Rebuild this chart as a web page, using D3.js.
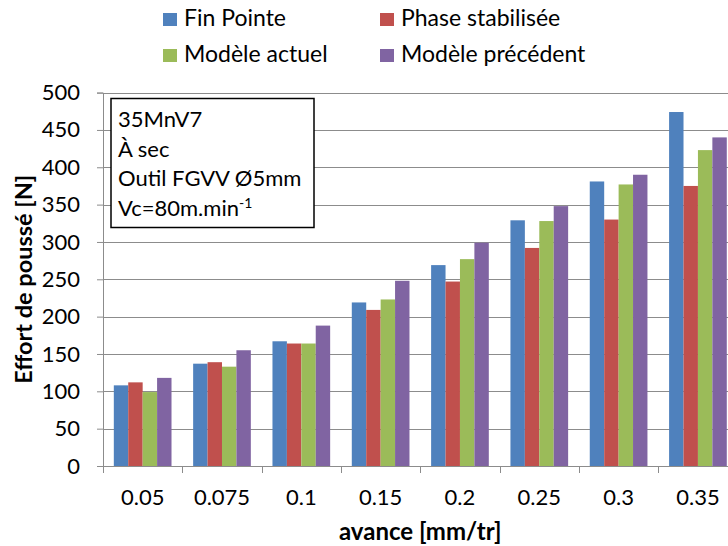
<!DOCTYPE html>
<html>
<head>
<meta charset="utf-8">
<script src="https://cdn.jsdelivr.net/npm/d3@7"></script>
<style>
  body { margin: 0; background: #fff; }
  text { font-family: Lato, "Open Sans", sans-serif; fill: #000; }
</style>
</head>
<body>
<div id="chart"></div>
<script>
var width = 728;
var height = 546;

// data
var categories = ["0.05", "0.075", "0.1", "0.15", "0.2", "0.25", "0.3", "0.35"];
var seriesNames = ["Fin Pointe", "Phase stabilisée", "Modèle actuel", "Modèle précédent"];
var seriesColors = ["#4F81BD", "#C0504D", "#9BBB59", "#8064A2"];
var finPointe = [108, 137, 167, 219, 269, 329, 381, 474];
var phaseStab = [112, 139, 164, 209, 247, 292, 330, 375];
var modeleActuel = [99, 133, 164, 223, 277, 328, 377, 423];
var modelePrec = [118, 155, 188, 248, 299, 348, 390, 440];
var yTicks = [0, 50, 100, 150, 200, 250, 300, 350, 400, 450, 500];
var infoLines = ["35MnV7", "À sec", "Outil FGVV Ø5mm"];

var allSeries = [finPointe, phaseStab, modeleActuel, modelePrec];

// plot area (the right side runs past the picture edge, as in the original)
var margin = {left: 103, top: 92.6, bottom: 466, right: 737.6};

var svg = d3.select("#chart")
  .append("svg")
  .attr("width", width)
  .attr("height", height);

var x = d3.scaleBand()
  .domain(categories)
  .range([margin.left, margin.right])
  .paddingInner(0)
  .paddingOuter(0);

var xSub = d3.scaleBand()
  .domain(d3.range(seriesNames.length))
  .range([0, x.bandwidth()])
  .paddingInner(0)
  .paddingOuter(0.75);

var y = d3.scaleLinear()
  .domain([0, 500])
  .range([margin.bottom, margin.top]);

// gridlines
svg.append("g")
  .selectAll("line")
  .data(yTicks.filter(function(d) { return d > 0; }))
  .enter()
  .append("line")
  .attr("x1", margin.left)
  .attr("x2", margin.right)
  .attr("y1", function(d) { return Math.round(y(d)) + 0.5; })
  .attr("y2", function(d) { return Math.round(y(d)) + 0.5; })
  .attr("stroke", "#8c8c8c")
  .attr("stroke-width", 1);

// bars
var groups = svg.append("g")
  .selectAll("g")
  .data(categories)
  .enter()
  .append("g")
  .attr("transform", function(d) { return "translate(" + x(d) + ",0)"; });

groups.selectAll("rect")
  .data(function(d, i) {
    return allSeries.map(function(s, k) { return {k: k, v: s[i]}; });
  })
  .enter()
  .append("rect")
  .attr("x", function(d) { return xSub(d.k); })
  .attr("width", xSub.bandwidth())
  .attr("y", function(d) { return y(d.v); })
  .attr("height", function(d) { return y(0) - y(d.v); })
  .attr("fill", function(d) { return seriesColors[d.k]; });

// y axis
var yAxis = svg.append("g")
  .attr("transform", "translate(" + margin.left + ",0)")
  .call(d3.axisLeft(y).tickValues(yTicks).tickSize(6).tickPadding(17));
yAxis.select(".domain").attr("stroke", "#8c8c8c");
yAxis.selectAll(".tick line").attr("stroke", "#8c8c8c");
yAxis.selectAll("text")
  .style("font-size", "22px")
  .attr("fill", "#000");

// x axis
var xAxis = svg.append("g")
  .attr("transform", "translate(0," + margin.bottom + ")")
  .call(d3.axisBottom(x).tickSize(0).tickPadding(23));
xAxis.select(".domain").attr("stroke", "#8c8c8c");
xAxis.selectAll("text")
  .style("font-size", "22px")
  .attr("fill", "#000");

// tick marks between categories
svg.append("g")
  .selectAll("line")
  .data(categories)
  .enter()
  .append("line")
  .attr("x1", function(d) { return Math.round(x(d)) + 0.5; })
  .attr("x2", function(d) { return Math.round(x(d)) + 0.5; })
  .attr("y1", margin.bottom)
  .attr("y2", margin.bottom + 7)
  .attr("stroke", "#8c8c8c");

// axis titles
svg.append("text")
  .attr("x", (margin.left + margin.right) / 2)
  .attr("y", 540)
  .attr("text-anchor", "middle")
  .style("font-size", "24px")
  .style("font-weight", "bold")
  .text("avance [mm/tr]");

svg.append("text")
  .attr("transform", "translate(32," + (margin.top + margin.bottom) / 2 + ") rotate(-90)")
  .attr("text-anchor", "middle")
  .style("font-size", "23.5px")
  .style("font-weight", "bold")
  .text("Effort de poussé [N]");

// legend
var legend = svg.append("g");
var legItem = legend.selectAll("g")
  .data(seriesNames)
  .enter()
  .append("g")
  .attr("transform", function(d, i) {
    return "translate(" + (i % 2 == 0 ? 163 : 380) + "," + (i < 2 ? 13 : 49) + ")";
  });

legItem.append("rect")
  .attr("width", 14)
  .attr("height", 13)
  .attr("fill", function(d, i) { return seriesColors[i]; });

legItem.append("text")
  .attr("x", 21)
  .attr("y", 13)
  .style("font-size", "23px")
  .text(function(d) { return d; });

// info box
svg.append("rect")
  .attr("x", 111)
  .attr("y", 98.5)
  .attr("width", 203)
  .attr("height", 129)
  .attr("fill", "#fff")
  .attr("stroke", "#000")
  .attr("stroke-width", 1.5);

svg.append("g")
  .selectAll("text")
  .data(infoLines)
  .enter()
  .append("text")
  .attr("x", 118)
  .attr("y", function(d, i) { return 127 + i * 29.5; })
  .style("font-size", "22px")
  .text(function(d) { return d; });

var vc = svg.append("text")
  .attr("x", 118)
  .attr("y", 215.5)
  .style("font-size", "22px");
vc.append("tspan").text("Vc=80m.min");
vc.append("tspan")
  .attr("dy", -8)
  .style("font-size", "14px")
  .text("-1");
</script>
</body>
</html>
